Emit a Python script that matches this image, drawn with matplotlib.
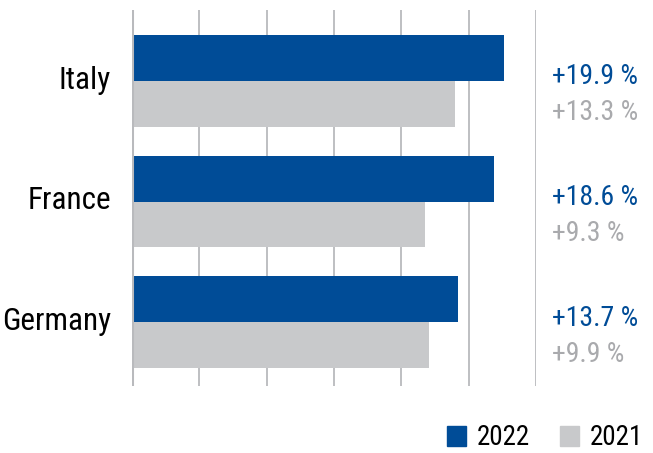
import matplotlib
matplotlib.use("Agg")
from matplotlib import pyplot as plt
from matplotlib.patches import Patch
import numpy as np

plt.rcParams['font.family'] = ['Roboto Condensed', 'Liberation Sans Narrow', 'DejaVu Sans']

# Growth vs previous year, per country
countries = ["Italy", "France", "Germany"]
growth_2022 = [19.9, 18.6, 13.7]
growth_2021 = [13.3, 9.3, 9.9]
years = ["2022", "2021"]

BLUE = "#004c97"
BAR_GREY = "#c8c9cb"
TEXT_GREY = "#a9aaad"
GRID = "#b9babd"

base = -30.0      # bars start from a truncated baseline
x_max = 24.2
bar_h = 0.38

fig = plt.figure(figsize=(6.53, 4.53), dpi=100)
ax = fig.add_axes([132 / 653, 1 - 385.7 / 453, 404 / 653, 375.7 / 453])

rows = np.arange(len(countries))
v22 = np.array(growth_2022)
v21 = np.array(growth_2021)

ax.barh(rows - bar_h / 2, v22 - base, left=base, height=bar_h, color=BLUE, zorder=3)
ax.barh(rows + bar_h / 2, v21 - base, left=base, height=bar_h, color=BAR_GREY, zorder=3)

ax.set_xlim(base, x_max)
ax.set_ylim(2.525, -0.586)

# evenly spaced vertical guides, no tick labels on x
guides = np.linspace(base, x_max, 7)
for gx in guides[1:]:
    ax.axvline(gx, color=GRID, lw=1.3, zorder=1)
ax.axvline(base, color=GRID, lw=2.2, zorder=4)

for s in ax.spines.values():
    s.set_visible(False)
ax.set_xticks([])
ax.set_yticks(rows - 0.03)
ax.set_yticklabels(countries, fontsize=22.5)
ax.tick_params(axis='y', length=0, pad=15)

# growth labels to the right of the chart
ytrans = ax.get_yaxis_transform()
for r, a, b in zip(rows, v22, v21):
    ax.text(1.04, r - 0.035, f"+{a:.1f} %", transform=ytrans, color=BLUE,
            fontsize=20, va='center', ha='left')
    ax.text(1.04, r + 0.265, f"+{b:.1f} %", transform=ytrans, color=TEXT_GREY,
            fontsize=20, va='center', ha='left')

handles = [Patch(color=BLUE, label=years[0]), Patch(color=BAR_GREY, label=years[1])]
fig.legend(handles=handles, loc='lower right', bbox_to_anchor=(657 / 653, -12 / 453),
           ncol=2, frameon=False, fontsize=19.5, handlelength=0.72, handleheight=0.72,
           handletextpad=0.4, columnspacing=1.1, borderpad=0.0)

fig.savefig("out.png", dpi=100)
